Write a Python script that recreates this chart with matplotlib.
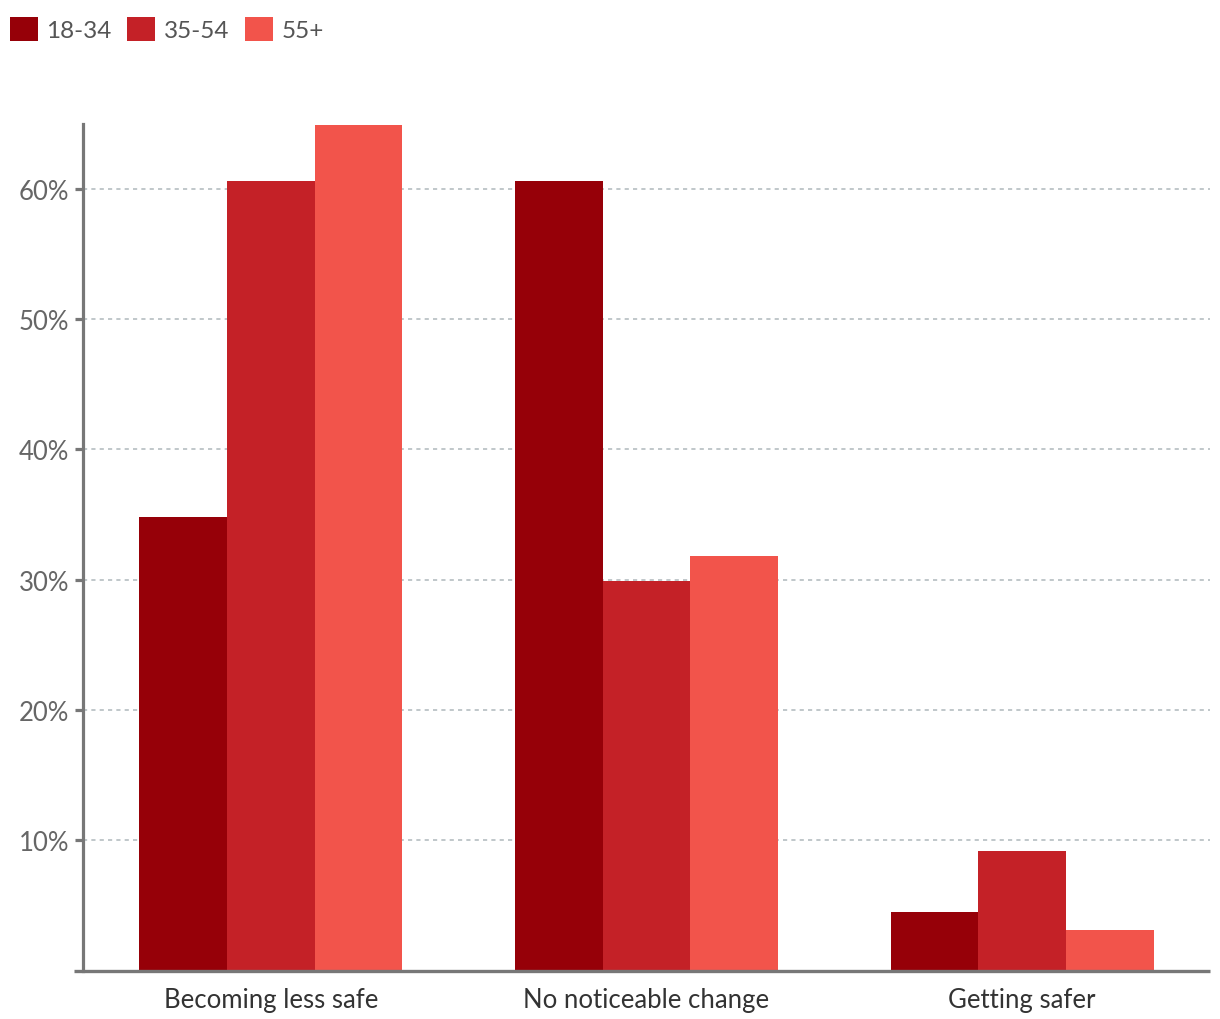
import numpy as np
from matplotlib import pyplot as plt
from matplotlib.patches import Patch

categories = ['Becoming less safe', 'No noticeable change', 'Getting safer']
groups = ['18-34', '35-54', '55+']
values_18_34 = [34.8, 60.6, 4.5]
values_35_54 = [60.6, 29.9, 9.2]
values_55_plus = [64.9, 31.8, 3.1]
yticks = [10, 20, 30, 40, 50, 60]
ytick_labels = ['10%', '20%', '30%', '40%', '50%', '60%']

colors = ['#960008', '#c42127', '#f2544b']

plt.rcParams['font.family'] = ['Lato', 'DejaVu Sans']

fig = plt.figure(figsize=(12.2, 10.2), dpi=100)
ax = fig.add_axes([0.068, 0.0475, 0.9238, 0.8304])

x = np.arange(len(categories))
width = 0.7 / 3
series = [values_18_34, values_35_54, values_55_plus]
for i, vals in enumerate(series):
    ax.bar(x + (i - 1) * width, vals, width, color=colors[i], zorder=3)

ax.set_xlim(-0.5, 2.5)
ax.set_ylim(0, 65)
ax.set_yticks(yticks)
ax.set_yticklabels(ytick_labels)
ax.set_xticks(x)
ax.set_xticklabels(categories)

ax.yaxis.grid(True, color='#b5bec1', linestyle=(0, (2.5, 2.5)), linewidth=1.2, zorder=0)
ax.xaxis.grid(False)

for s in ['top', 'right', 'bottom']:
    ax.spines[s].set_visible(False)
ax.spines['left'].set_color('#777777')
ax.spines['left'].set_linewidth(2.3)
ax.spines['left'].set_zorder(4)
# bottom baseline sticks out a little to the left
ax.plot([-0.008, 1], [0, 0], transform=ax.transAxes, color='#777777', lw=2.4,
        clip_on=False, zorder=5, solid_capstyle='butt')

ax.tick_params(axis='y', length=6, width=2.3, color='#777777', labelsize=18.5,
               labelcolor='#666666', pad=4)
ax.tick_params(axis='x', length=0, labelsize=18.5, labelcolor='#333333', pad=12)

handles = [Patch(facecolor=c, edgecolor='none') for c in colors]
fig.legend(handles, groups, loc='upper left', bbox_to_anchor=(-0.004, 0.997), ncol=3,
           frameon=False, fontsize=17.5, handlelength=1.15, handleheight=1.15,
           handletextpad=0.35, columnspacing=0.65, labelcolor='#555555',
           borderaxespad=0.2)

fig.savefig('out.png', dpi=100)
